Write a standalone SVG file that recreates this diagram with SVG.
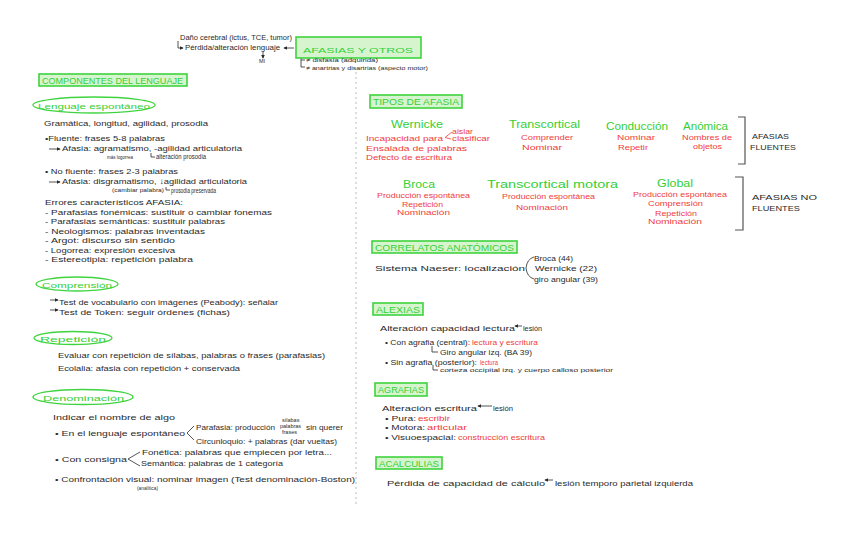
<svg xmlns="http://www.w3.org/2000/svg" width="848" height="542" viewBox="0 0 848 542">
<style>
text{font-family:"Liberation Sans",Arial,sans-serif;fill:#2a2a2a;font-size:8px}
.g{fill:#36cf36}
.r{fill:#f03c3c}
.hd{font-size:9px}
.big{font-size:11px}
.sm{font-size:7px}
.xs{font-size:5.5px}
.bx{fill:#d6f5cf;stroke:#3fd43f;stroke-width:1.6}
.el{fill:#fff;stroke:#3fd43f;stroke-width:1.3}
.ln{fill:none;stroke:#2a2a2a;stroke-width:0.8}
.br{fill:none;stroke:#555;stroke-width:1.2}
</style>
<defs>
<marker id="ah" viewBox="0 0 6 6" refX="5" refY="3" markerWidth="5" markerHeight="5" orient="auto-start-reverse">
<path d="M0,0 L6,3 L0,6 z" fill="#2a2a2a"/>
</marker>
</defs>
<rect width="848" height="542" fill="#fff"/>
<line x1="356" y1="72" x2="356" y2="506" stroke="#bbb" stroke-width="1" stroke-dasharray="2 3"/>

<g id="connectors">
<path class="ln" d="M178,41 V48 H183" marker-end="url(#ah)"/>
<line class="ln" x1="294" y1="48" x2="284" y2="48" marker-end="url(#ah)"/>
<line class="ln" x1="263" y1="52" x2="263" y2="58" marker-end="url(#ah)"/>
<path class="ln" d="M301,58 V60 H305"/>
<path class="ln" d="M301,60 V67 H305"/>
<line class="ln" x1="49" y1="149" x2="60" y2="149" marker-end="url(#ah)"/>
<path class="ln" d="M151,153 V157 H155"/>
<line class="ln" x1="49" y1="182" x2="60" y2="182" marker-end="url(#ah)"/>
<path class="ln" d="M166,187 V190 H170"/>
<line class="ln" x1="50" y1="300" x2="58" y2="300" marker-end="url(#ah)"/>
<line class="ln" x1="50" y1="310" x2="58" y2="310" marker-end="url(#ah)"/>
<path class="ln" d="M194,426 L187,433 L194,440"/>
<path class="ln" d="M140,452 L128,459 L140,466"/>
<path fill="none" stroke="#f03c3c" stroke-width="0.8" d="M452,132 L445,137.5 L451,139"/>
<path class="br" d="M738,117 H745 V164 H738"/>
<path class="br" d="M735,177 H743 V230 H735"/>
<path class="ln" d="M534,257 Q527,259 526,268 Q527,277 534,279"/>
<line class="ln" x1="522" y1="326" x2="515" y2="326" marker-end="url(#ah)"/>
<path class="ln" d="M432,346 V352 H438"/>
<path class="ln" d="M433,365 V370 H438"/>
<line class="ln" x1="492" y1="406" x2="478" y2="406" marker-end="url(#ah)"/>
<line class="ln" x1="553" y1="480" x2="545" y2="480" marker-end="url(#ah)"/>
</g>

<g id="dano"><text class="sm" x="180" y="40" textLength="112" lengthAdjust="spacingAndGlyphs">Daño cerebral (ictus, TCE, tumor)</text></g>
<g id="perdida"><text class="sm" x="185" y="50" textLength="95" lengthAdjust="spacingAndGlyphs">Pérdida/alteración lenguaje</text></g>
<g id="mi"><text class="xs" x="259" y="63">MI</text></g>
<g id="afasias-otros">
<rect class="bx" x="296" y="37" width="125" height="21" stroke-width="2.5"/>
<text class="g" x="303" y="53" font-size="13" textLength="110" lengthAdjust="spacingAndGlyphs">AFASIAS Y OTROS</text>
</g>
<g id="disfasia"><text class="xs" x="306" y="62" textLength="72" lengthAdjust="spacingAndGlyphs">≠ disfasia (adquirida)</text></g>
<g id="anartrias"><text class="xs" x="306" y="70" textLength="122" lengthAdjust="spacingAndGlyphs">≠ anartrias y disartrias (aspecto motor)</text></g>

<g id="componentes">
<rect class="bx" x="39" y="74" width="148" height="12"/>
<text class="g hd" x="42" y="84" textLength="141" lengthAdjust="spacingAndGlyphs">COMPONENTES DEL LENGUAJE</text>
</g>

<g id="lenguaje-espontaneo">
<ellipse class="el" cx="94" cy="105" rx="61" ry="8"/>
<text class="g" x="38" y="108.5" font-size="10" textLength="112" lengthAdjust="spacingAndGlyphs">Lenguaje espontáneo</text>
<text x="44" y="126" textLength="164" lengthAdjust="spacingAndGlyphs">Gramática, longitud, agilidad, prosodia</text>
<text x="45" y="141" textLength="120" lengthAdjust="spacingAndGlyphs">•Fluente: frases 5-8 palabras</text>
<text x="62" y="151" textLength="180" lengthAdjust="spacingAndGlyphs">    Afasia: agramatismo, -agilidad articulatoria</text>
<text class="xs" x="107" y="159" textLength="26" lengthAdjust="spacingAndGlyphs">más logorrea</text>
<text class="sm" x="156" y="159" textLength="50" lengthAdjust="spacingAndGlyphs">alteración prosodia</text>
<text x="45" y="174" textLength="133" lengthAdjust="spacingAndGlyphs">• No fluente: frases 2-3 palabras</text>
<text x="62" y="184" textLength="185" lengthAdjust="spacingAndGlyphs">    Afasia: disgramatismo, ↓agilidad articulatoria</text>
<text class="xs" x="112" y="192" font-size="5" textLength="52" lengthAdjust="spacingAndGlyphs">(cambiar palabra)</text>
<text class="sm" x="171" y="192.5" font-size="6.5" textLength="45" lengthAdjust="spacingAndGlyphs">prosodia preservada</text>
<text x="45" y="205" textLength="138" lengthAdjust="spacingAndGlyphs">Errores característicos AFASIA:</text>
<text x="45" y="214.5" textLength="227" lengthAdjust="spacingAndGlyphs">- Parafasias fonémicas: sustituir o cambiar fonemas</text>
<text x="45" y="224" textLength="180" lengthAdjust="spacingAndGlyphs">- Parafasias semánticas: sustituir palabras</text>
<text x="45" y="233.5" textLength="160" lengthAdjust="spacingAndGlyphs">- Neologismos: palabras inventadas</text>
<text x="45" y="243" textLength="130" lengthAdjust="spacingAndGlyphs">- Argot: discurso sin sentido</text>
<text x="45" y="252.5" textLength="130" lengthAdjust="spacingAndGlyphs">- Logorrea: expresión excesiva</text>
<text x="45" y="262" textLength="148" lengthAdjust="spacingAndGlyphs">- Estereotipia: repetición palabra</text>
</g>

<g id="comprension">
<ellipse class="el" cx="77" cy="284" rx="41" ry="7"/>
<text class="g" x="42" y="287.5" font-size="10" textLength="70" lengthAdjust="spacingAndGlyphs">Comprensión</text>
<text x="59" y="304.5" textLength="219" lengthAdjust="spacingAndGlyphs">Test de vocabulario con imágenes (Peabody): señalar</text>
<text x="59" y="314.5" textLength="171" lengthAdjust="spacingAndGlyphs">Test de Token: seguir órdenes (fichas)</text>
</g>

<g id="repeticion">
<ellipse class="el" cx="73" cy="338" rx="39" ry="6.5"/>
<text class="g" x="40" y="341.5" font-size="10" textLength="66" lengthAdjust="spacingAndGlyphs">Repetición</text>
<text x="58" y="358" textLength="267" lengthAdjust="spacingAndGlyphs">Evaluar con repetición de sílabas, palabras o frases (parafasias)</text>
<text x="58" y="371" textLength="182" lengthAdjust="spacingAndGlyphs">Ecolalia: afasia con repetición + conservada</text>
</g>

<g id="denominacion">
<ellipse class="el" cx="83" cy="397" rx="50" ry="7.5"/>
<text class="g" x="43" y="400.5" font-size="10" textLength="81" lengthAdjust="spacingAndGlyphs">Denominación</text>
<text x="53" y="419.5" textLength="122" lengthAdjust="spacingAndGlyphs">Indicar el nombre de algo</text>
<text x="55" y="436" textLength="130" lengthAdjust="spacingAndGlyphs">• En el lenguaje espontáneo</text>
<text class="sm" x="196" y="429.5" textLength="79" lengthAdjust="spacingAndGlyphs">Parafasia: producción</text>
<text class="xs" x="282" y="422">sílabas</text>
<text class="xs" x="280" y="428">palabras</text>
<text class="xs" x="282" y="434">frases</text>
<text class="sm" x="306" y="429.5" textLength="37" lengthAdjust="spacingAndGlyphs">sin querer</text>
<text class="sm" x="196" y="443.5" textLength="141" lengthAdjust="spacingAndGlyphs">Circunloquio: + palabras (dar vueltas)</text>
<text x="55" y="462" textLength="72" lengthAdjust="spacingAndGlyphs">• Con consigna</text>
<text class="sm" x="142" y="454.5" textLength="190" lengthAdjust="spacingAndGlyphs">Fonética: palabras que empiecen por letra...</text>
<text class="sm" x="141" y="466" textLength="142" lengthAdjust="spacingAndGlyphs">Semántica: palabras de 1 categoría</text>
<text x="55" y="482" textLength="300" lengthAdjust="spacingAndGlyphs">• Confrontación visual: nominar imagen (Test denominación-Boston)</text>
<text class="xs" x="137" y="489.5" font-size="4.5" textLength="21" lengthAdjust="spacingAndGlyphs">(analítica)</text>
</g>

<g id="tipos-afasia">
<rect class="bx" x="370" y="95" width="92" height="13"/>
<text class="g hd" x="373" y="105" textLength="86" lengthAdjust="spacingAndGlyphs">TIPOS DE AFASIA</text>
</g>

<g id="wernicke">
<text class="g big" x="391" y="128" textLength="52" lengthAdjust="spacingAndGlyphs">Wernicke</text>
<text class="r sm" x="452" y="134" textLength="21" lengthAdjust="spacingAndGlyphs">aislar</text>
<text class="r" x="366" y="141" textLength="77" lengthAdjust="spacingAndGlyphs">Incapacidad para</text>
<text class="r" x="452" y="141" textLength="38" lengthAdjust="spacingAndGlyphs">clasificar</text>
<text class="r" x="366" y="151" textLength="101" lengthAdjust="spacingAndGlyphs">Ensalada de palabras</text>
<text class="r" x="366" y="160" textLength="86" lengthAdjust="spacingAndGlyphs">Defecto de escritura</text>
</g>
<g id="transcortical">
<text class="g big" x="509" y="128" textLength="71" lengthAdjust="spacingAndGlyphs">Transcortical</text>
<text class="r" x="521" y="140" textLength="52" lengthAdjust="spacingAndGlyphs">Comprender</text>
<text class="r" x="522" y="150" textLength="40" lengthAdjust="spacingAndGlyphs">Nominar</text>
</g>
<g id="conduccion">
<text class="g big" x="606" y="130" textLength="62" lengthAdjust="spacingAndGlyphs">Conducción</text>
<text class="r" x="617" y="140" textLength="38" lengthAdjust="spacingAndGlyphs">Nominar</text>
<text class="r" x="618" y="150" textLength="30" lengthAdjust="spacingAndGlyphs">Repetir</text>
</g>
<g id="anomica">
<text class="g big" x="683" y="130" textLength="45" lengthAdjust="spacingAndGlyphs">Anómica</text>
<text class="r" x="682" y="140" textLength="50" lengthAdjust="spacingAndGlyphs">Nombres de</text>
<text class="r" x="693" y="149" textLength="29" lengthAdjust="spacingAndGlyphs">objetos</text>
</g>
<g id="fluentes">
<text x="752" y="139" font-size="8.5" textLength="37" lengthAdjust="spacingAndGlyphs">AFASIAS</text>
<text x="750" y="150" font-size="8.5" textLength="46" lengthAdjust="spacingAndGlyphs">FLUENTES</text>
</g>

<g id="broca">
<text class="g big" x="403" y="188" textLength="32" lengthAdjust="spacingAndGlyphs">Broca</text>
<text class="r sm" x="377" y="198" textLength="93" lengthAdjust="spacingAndGlyphs">Producción espontánea</text>
<text class="r sm" x="402" y="207" textLength="41" lengthAdjust="spacingAndGlyphs">Repetición</text>
<text class="r sm" x="397" y="215" textLength="53" lengthAdjust="spacingAndGlyphs">Nominación</text>
</g>
<g id="transcortical-motora">
<text class="g big" x="487" y="188" textLength="131" lengthAdjust="spacingAndGlyphs">Transcortical motora</text>
<text class="r sm" x="502" y="199" textLength="93" lengthAdjust="spacingAndGlyphs">Producción espontánea</text>
<text class="r sm" x="516" y="210" textLength="52" lengthAdjust="spacingAndGlyphs">Nominación</text>
</g>
<g id="global">
<text class="g big" x="657" y="187" textLength="36" lengthAdjust="spacingAndGlyphs">Global</text>
<text class="r sm" x="633" y="197" textLength="94" lengthAdjust="spacingAndGlyphs">Producción espontánea</text>
<text class="r sm" x="648" y="206" textLength="55" lengthAdjust="spacingAndGlyphs">Comprensión</text>
<text class="r sm" x="655" y="216" textLength="42" lengthAdjust="spacingAndGlyphs">Repetición</text>
<text class="r sm" x="648" y="224" textLength="54" lengthAdjust="spacingAndGlyphs">Nominación</text>
</g>
<g id="no-fluentes">
<text x="752" y="200" font-size="8.5" textLength="65" lengthAdjust="spacingAndGlyphs">AFASIAS NO</text>
<text x="752" y="211" font-size="8.5" textLength="48" lengthAdjust="spacingAndGlyphs">FLUENTES</text>
</g>

<g id="correlatos">
<rect class="bx" x="372" y="241" width="145" height="12"/>
<text class="g hd" x="375" y="251" textLength="139" lengthAdjust="spacingAndGlyphs">CORRELATOS ANATÓMICOS</text>
<text x="375" y="271" textLength="150" lengthAdjust="spacingAndGlyphs">Sistema Naeser: localización</text>
<text class="sm" x="534" y="260.5" textLength="39" lengthAdjust="spacingAndGlyphs">Broca (44)</text>
<text class="sm" x="535" y="271" textLength="62" lengthAdjust="spacingAndGlyphs">Wernicke (22)</text>
<text class="sm" x="534" y="282" textLength="64" lengthAdjust="spacingAndGlyphs">giro angular (39)</text>
</g>

<g id="alexias">
<rect class="bx" x="373" y="303" width="50" height="12"/>
<text class="g hd" x="376" y="313" textLength="44" lengthAdjust="spacingAndGlyphs">ALEXIAS</text>
<text x="380" y="331" textLength="135" lengthAdjust="spacingAndGlyphs">Alteración capacidad lectura</text>
<text class="sm" x="523" y="331" textLength="19" lengthAdjust="spacingAndGlyphs">lesión</text>
<text class="sm" x="385" y="345" textLength="85" lengthAdjust="spacingAndGlyphs">• Con agrafia (central):</text>
<text class="sm r" x="472" y="345" textLength="66" lengthAdjust="spacingAndGlyphs">lectura y escritura</text>
<text class="sm" x="440" y="355" textLength="92" lengthAdjust="spacingAndGlyphs">Giro angular izq. (BA 39)</text>
<text class="sm" x="385" y="365" textLength="92" lengthAdjust="spacingAndGlyphs">• Sin agrafia (posterior):</text>
<text class="sm r" x="480" y="365" textLength="18" lengthAdjust="spacingAndGlyphs">lectura</text>
<text class="xs" x="440" y="372" textLength="173" lengthAdjust="spacingAndGlyphs">corteza occipital izq. y cuerpo calloso posterior</text>
</g>

<g id="agrafias">
<rect class="bx" x="375" y="383" width="52" height="13"/>
<text class="g hd" x="378" y="393" textLength="46" lengthAdjust="spacingAndGlyphs">AGRAFIAS</text>
<text x="382" y="411" textLength="95" lengthAdjust="spacingAndGlyphs">Alteración escritura</text>
<text class="sm" x="493" y="411" textLength="20" lengthAdjust="spacingAndGlyphs">lesión</text>
<text class="sm" x="385" y="421" textLength="31" lengthAdjust="spacingAndGlyphs">• Pura:</text>
<text class="sm r" x="418" y="421" textLength="32" lengthAdjust="spacingAndGlyphs">escribir</text>
<text class="sm" x="385" y="430" textLength="40" lengthAdjust="spacingAndGlyphs">• Motora:</text>
<text class="sm r" x="427" y="430" textLength="40" lengthAdjust="spacingAndGlyphs">articular</text>
<text class="sm" x="385" y="440" textLength="71" lengthAdjust="spacingAndGlyphs">• Visuoespacial:</text>
<text class="sm r" x="458" y="440" textLength="87" lengthAdjust="spacingAndGlyphs">construcción escritura</text>
</g>

<g id="acalculias">
<rect class="bx" x="376" y="457" width="66" height="12"/>
<text class="g hd" x="379" y="467" textLength="60" lengthAdjust="spacingAndGlyphs">ACALCULIAS</text>
<text x="387" y="486" textLength="158" lengthAdjust="spacingAndGlyphs">Pérdida de capacidad de cálculo</text>
<text class="sm" x="555" y="486" textLength="138" lengthAdjust="spacingAndGlyphs">lesión temporo parietal izquierda</text>
</g>
</svg>
